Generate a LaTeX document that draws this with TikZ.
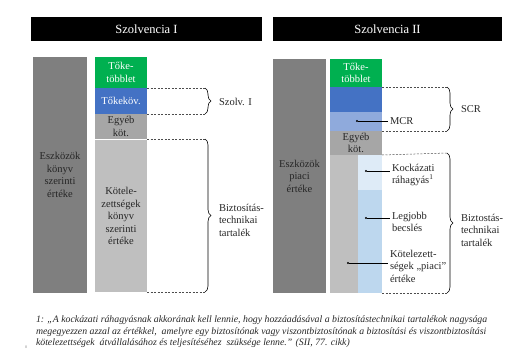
\documentclass[tikz,border=0pt]{standalone}
\usepackage{fontspec}
\setmainfont{Liberation Serif}
\usetikzlibrary{positioning, decorations.pathreplacing, calc}
\definecolor{assetgray}{HTML}{7F7F7F}
\definecolor{capgreen}{HTML}{00B050}
\definecolor{capblue}{HTML}{4472C4}
\definecolor{mcrblue}{HTML}{8FAADC}
\definecolor{othergray}{HTML}{A6A6A6}
\definecolor{liabgray}{HTML}{BFBFBF}
\definecolor{riskblue}{HTML}{DEEBF7}
\definecolor{bestblue}{HTML}{BDD7EE}
\definecolor{txtgray}{HTML}{262626}

\begin{document}
\begin{tikzpicture}[
    x=1pt, y=-1pt,
    every node/.style={font=\fontsize{10.5}{12.5}\selectfont, inner sep=0pt, outer sep=0pt, text=txtgray},
    header/.style={fill=black, text=white, font=\fontsize{12.5}{14}\selectfont, minimum height=24pt},
    bar/.style={minimum width=52pt, align=center},
    guide/.style={dashed, dash pattern=on 2pt off 1.5pt, draw=black!70, line width=0.5pt},
    brc/.style={decorate, decoration={brace, amplitude=6pt}, line width=0.6pt},
    dot/.style={circle, fill=black, minimum size=2.2pt},
    pointer/.style={line width=0.5pt},
    lbl/.style={align=left},
  ]
  \useasboundingbox (0,0) rectangle (520,360);

  % Headers
  \node[header, minimum width=231pt] (hdrI) at (146.5,29) {Szolvencia I};
  \node[header, minimum width=229pt] (hdrII) at (387.5,29) {Szolvencia II};

  % Szolvencia I columns
  \node[bar, fill=assetgray, minimum width=54pt, minimum height=236pt] (assetI) at (60,175)
    {Eszközök\\könyv\\szerinti\\értéke};
  \node[bar, fill=capgreen, minimum height=31pt, text=white] (surplusI) at (121,72.5) {Tőke-\\többlet};
  \node[bar, fill=capblue, minimum height=26pt, text=white] (capreqI) at (121,101) {Tőkeköv.};
  \node[bar, fill=othergray, minimum height=25pt] (otherI) at (121,126.5) {Egyéb\\köt.};
  \node[bar, fill=liabgray, minimum height=152pt] (liabI) at (121,216)
    {Kötele-\\zettségek\\könyv\\szerinti\\értéke};

  % Szolvencia I braces
  \coordinate (szTop) at (205,88);
  \coordinate (szBot) at (205,114);
  \draw[guide] (capreqI.north east) -- (szTop);
  \draw[guide] (capreqI.south east) -- (szBot);
  \draw[brc] (szTop) -- (szBot);
  \node[lbl, anchor=west] (szolvI) at (219,101.5) {Szolv. I};

  \coordinate (tpTopI) at (205,139);
  \coordinate (tpBotI) at (205,292);
  \draw[guide] (otherI.south east) -- (tpTopI);
  \draw[guide] (liabI.south east) -- (tpBotI);
  \draw[brc] (tpTopI) -- (tpBotI);
  \node[lbl, anchor=north west] (techI) at (219,204) {Biztosítás-\\technikai\\tartalék};

  % Szolvencia II columns
  \node[bar, fill=assetgray, minimum width=53pt, minimum height=234pt] (assetII) at (299.5,176)
    {Eszközök\\piaci\\értéke};
  \node[bar, fill=capgreen, minimum height=28pt, text=white] (surplusII) at (356,73) {Tőke-\\többlet};
  \node[bar, fill=capblue, minimum height=25pt] (scrII) at (356,99.5) {};
  \node[bar, fill=mcrblue, minimum height=19pt] (mcrII) at (356,121.5) {};
  \node[bar, fill=othergray, minimum height=24pt] (otherII) at (356,143) {Egyéb\\köt.};
  \node[bar, fill=liabgray, minimum height=138pt] (liabII) at (356,224) {};
  \node[bar, fill=riskblue, minimum width=24pt, minimum height=35pt] (riskII) at (370,172.5) {};
  \node[bar, fill=bestblue, minimum width=24pt, minimum height=103pt] (bestII) at (370,241.5) {};

  % Szolvencia II pointers
  \node[dot] (dMCR) at (357,121) {};
  \node[lbl, anchor=west] (lMCR) at (390,121) {MCR};
  \draw[pointer] (dMCR) -- ($(lMCR.west)+(-2,0)$);

  \node[dot] (dRisk) at (366,171) {};
  \node[lbl, anchor=north west] (lRisk) at (392,164) {Kockázati\\ráhagyás\textsuperscript{1}};
  \draw[pointer] (dRisk) -- ($(dRisk -| lRisk.west)+(-2,0)$);

  \node[dot] (dBest) at (366,218) {};
  \node[lbl, anchor=north west] (lBest) at (392,212) {Legjobb\\becslés};
  \draw[pointer] (dBest) -- ($(dBest -| lBest.west)+(-2,0)$);

  \node[dot] (dLiab) at (348,263) {};
  \node[lbl, anchor=north west] (lLiab) at (390,250) {Kötelezett-\\ségek „piaci”\\értéke};
  \draw[pointer] (dLiab) -- ($(dLiab -| lLiab.west)+(-2,0)$);

  % Szolvencia II braces
  \coordinate (scrTop) at (447,87);
  \coordinate (scrBot) at (447,131);
  \draw[guide] (scrII.north east) -- (scrTop);
  \draw[guide] (mcrII.south east) -- (scrBot);
  \draw[brc] (scrTop) -- (scrBot);
  \node[lbl, anchor=west] (lSCR) at (461,109) {SCR};

  \coordinate (tpTopII) at (447,153);
  \coordinate (tpBotII) at (447,293);
  \draw[guide] (otherII.south east) -- (tpTopII);
  \draw[guide] (bestII.south east) -- (tpBotII);
  \draw[brc] (tpTopII) -- (tpBotII);
  \node[lbl, anchor=north west] (techII) at (461,214) {Biztostás-\\technikai\\tartalék};

  % Footnote
  \node[lbl, anchor=north west, font=\itshape\fontsize{9.8}{11.5}\selectfont] (fnote) at (36,316)
    {1: „A kockázati ráhagyásnak akkorának kell lennie, hogy hozzáadásával a biztosítástechnikai tartalékok nagysága\\
     megegyezzen azzal az értékkel,\ \ amelyre egy biztosítónak vagy viszontbiztosítónak a biztosítási és viszontbiztosítási\\
     kötelezettségek\ \ átvállalásához és teljesítéséhez\ \ szüksége lenne.” (SII, 77. cikk)};
  \node[font=\fontsize{4}{4}\selectfont, text=black!50] (pgmark) at (26,347) {0};
\end{tikzpicture}
\end{document}
